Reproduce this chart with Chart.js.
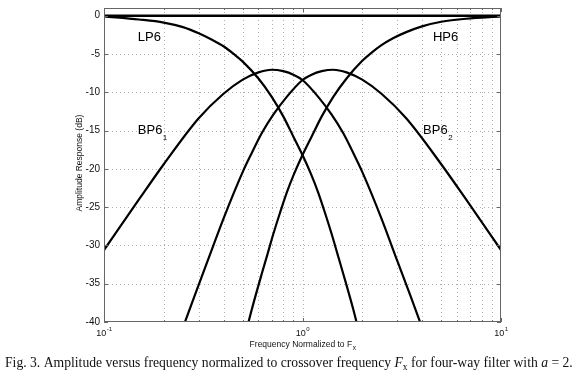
<!DOCTYPE html>
<html><head><meta charset="utf-8">
<script src="https://cdn.jsdelivr.net/npm/chart.js@4.4.0/dist/chart.umd.min.js"></script>
<style>html,body{margin:0;padding:0;background:#fff;}canvas{display:block;}</style>
</head><body>
<canvas id="c" width="578" height="385"></canvas>
<script>
// ---- data ----
const freqSum = [0.1, 10];
const sumResp = [0, 0];

const freqLP = [0.1,0.15,0.2,0.25,0.3,0.35,0.4,0.45,0.5,0.6,0.7,0.8,0.9,1.0,1.1,1.2,1.3,1.4,1.5,1.6,1.8,2.0];
const lp6    = [-0.1,-0.5,-0.9,-1.5,-2.3,-3.15,-4.0,-5.0,-6.0,-8.2,-10.6,-13.15,-15.8,-18.2,-20.6,-23.1,-25.8,-28.45,-31.1,-33.6,-38.3,-43.0];

const freqHP = [0.5,0.556,0.625,0.667,0.714,0.769,0.833,0.909,1.0,1.111,1.25,1.429,1.667,2.0,2.222,2.5,2.857,3.33,4.0,5.0,6.67,10];
const hp6    = [-43.0,-38.3,-33.6,-31.1,-28.45,-25.8,-23.1,-20.6,-18.2,-15.8,-13.15,-10.6,-8.2,-5.9,-4.85,-3.85,-2.95,-2.15,-1.4,-0.8,-0.4,-0.1];

const freqBP1 = [0.1,0.15,0.2,0.3,0.4,0.5,0.6,0.7,0.8,0.9,1.0,1.2,1.4,1.6,1.8,2.0,2.5,3.0,3.5,4.0];
const bp61    = [-30.6,-24.0,-19.4,-13.4,-10.2,-8.35,-7.4,-7.06,-7.25,-7.7,-8.4,-10.6,-12.9,-15.3,-17.9,-20.4,-26.5,-32.0,-36.6,-40.7];

const freqBP2 = [0.25,0.286,0.333,0.4,0.5,0.556,0.625,0.714,0.833,1.0,1.111,1.25,1.429,1.667,2.0,2.5,3.33,5.0,6.67,10];
const bp62    = [-40.7,-36.6,-32.0,-26.5,-20.4,-17.9,-15.3,-12.9,-10.6,-8.4,-7.7,-7.25,-7.06,-7.4,-8.35,-10.2,-13.4,-19.4,-24.0,-30.6];

const yTickValues = [0,-5,-10,-15,-20,-25,-30,-35,-40];
const yTickLabels = ['0','-5','-10','-15','-20','-25','-30','-35','-40'];
const xMajorTicks = [0.1, 1, 10];
const xTickExponents = ['-1','0','1'];
const xMinorTicks = [0.2,0.3,0.4,0.5,0.6,0.7,0.8,0.9,2,3,4,5,6,7,8,9];

const curveLabels = [
  {text:'LP6', sub:'', f:0.148, db:-2.9},
  {text:'HP6', sub:'', f:4.54, db:-2.9},
  {text:'BP6', sub:'1', f:0.148, db:-15.0},
  {text:'BP6', sub:'2', f:4.05, db:-15.0}
];
const xTitle = 'Frequency Normalized to F';
const xTitleSub = 'x';
const yTitle = 'Amplitude Response (dB)';
const captionParts = [
  {t:'Fig. 3. Amplitude versus frequency normalized to crossover frequency ', s:'normal'},
  {t:'F', s:'italic'},
  {t:'x', s:'sub'},
  {t:' for four-way filter with ', s:'normal'},
  {t:'a', s:'italic'},
  {t:' = 2.', s:'normal'}
];

const pts = (xs, ys) => xs.map((v, i) => ({x: v, y: ys[i]}));
const SANS = '"Liberation Sans", Arial, Helvetica, sans-serif';
const SERIF = '"Liberation Serif", "Times New Roman", serif';

const decor = {
  id: 'decor',
  beforeDatasetsDraw(chart) {
    const {ctx, chartArea: a, scales: {x, y}} = chart;
    ctx.save();
    ctx.strokeStyle = '#b0b0b0';
    ctx.lineWidth = 1;
    ctx.setLineDash([1, 3]);
    for (const f of xMinorTicks.concat([1])) {
      const px = Math.round(x.getPixelForValue(f)) + 0.5;
      ctx.beginPath(); ctx.moveTo(px, a.top); ctx.lineTo(px, a.bottom); ctx.stroke();
    }
    for (const v of yTickValues) {
      if (v === 0 || v === -40) continue;
      const py = Math.round(y.getPixelForValue(v)) + 0.5;
      ctx.beginPath(); ctx.moveTo(a.left, py); ctx.lineTo(a.right, py); ctx.stroke();
    }
    ctx.restore();
  },
  afterDatasetsDraw(chart) {
    const {ctx, chartArea: a, scales: {x, y}} = chart;
    ctx.save();
    // frame
    ctx.strokeStyle = '#666';
    ctx.lineWidth = 1;
    ctx.strokeRect(a.left + 0.5, a.top + 0.5, a.right - a.left - 1, a.bottom - a.top - 1);
    // ticks on all sides
    ctx.beginPath();
    for (const v of yTickValues) {
      const py = Math.round(y.getPixelForValue(v)) + 0.5;
      ctx.moveTo(a.left, py); ctx.lineTo(a.left + 4, py);
      ctx.moveTo(a.right, py); ctx.lineTo(a.right - 4, py);
    }
    for (const f of xMajorTicks) {
      const px = Math.round(x.getPixelForValue(f)) + 0.5;
      ctx.moveTo(px, a.bottom); ctx.lineTo(px, a.bottom - 4);
      ctx.moveTo(px, a.top); ctx.lineTo(px, a.top + 4);
    }
    for (const f of xMinorTicks) {
      const px = Math.round(x.getPixelForValue(f)) + 0.5;
      ctx.moveTo(px, a.bottom); ctx.lineTo(px, a.bottom - 2);
      ctx.moveTo(px, a.top); ctx.lineTo(px, a.top + 2);
    }
    ctx.stroke();

    ctx.fillStyle = '#111';
    // y tick labels
    ctx.font = '10px ' + SANS;
    ctx.textAlign = 'right';
    ctx.textBaseline = 'middle';
    yTickValues.forEach((v, i) => {
      ctx.fillText(yTickLabels[i], a.left - 4, y.getPixelForValue(v));
    });
    // x tick labels 10^n
    ctx.textBaseline = 'alphabetic';
    ctx.textAlign = 'left';
    xMajorTicks.forEach((f, i) => {
      const px = x.getPixelForValue(f);
      ctx.font = '9px ' + SANS;
      const w1 = ctx.measureText('10').width;
      ctx.font = '6px ' + SANS;
      const w2 = ctx.measureText(xTickExponents[i]).width;
      const x0 = px - (w1 + w2) / 2;
      ctx.font = '9px ' + SANS;
      ctx.fillText('10', x0, a.bottom + 14);
      ctx.font = '6px ' + SANS;
      ctx.fillText(xTickExponents[i], x0 + w1 + 0.5, a.bottom + 9);
    });
    // x title
    ctx.font = '8.5px ' + SANS;
    const wt = ctx.measureText(xTitle).width;
    ctx.font = '6.5px ' + SANS;
    const ws = ctx.measureText(xTitleSub).width;
    const cx = (a.left + a.right) / 2;
    const tx0 = cx - (wt + ws) / 2;
    ctx.font = '8.5px ' + SANS;
    ctx.fillText(xTitle, tx0, 347);
    ctx.font = '6.5px ' + SANS;
    ctx.fillText(xTitleSub, tx0 + wt + 0.5, 350);
    // y title
    ctx.save();
    ctx.translate(82, (a.top + a.bottom) / 2 - 2);
    ctx.rotate(-Math.PI / 2);
    ctx.font = '8.5px ' + SANS;
    ctx.textAlign = 'center';
    ctx.fillText(yTitle, 0, 0);
    ctx.restore();
    // curve labels
    ctx.fillStyle = '#000';
    for (const lb of curveLabels) {
      const px = x.getPixelForValue(lb.f);
      const py = y.getPixelForValue(lb.db);
      ctx.font = '13px ' + SANS;
      ctx.textBaseline = 'middle';
      ctx.textAlign = 'left';
      ctx.fillText(lb.text, px, py);
      if (lb.sub) {
        const w = ctx.measureText(lb.text).width;
        ctx.font = '8px ' + SANS;
        ctx.fillText(lb.sub, px + w + 0.5, py + 7);
      }
    }
    // caption
    const base = 12;
    const fontFor = (s, sz) => (s === 'italic' ? 'italic ' : '') + (s === 'sub' ? sz * 0.7 : sz) + 'px ' + SERIF;
    let total = 0;
    for (const p of captionParts) { ctx.font = fontFor(p.s, base); total += ctx.measureText(p.t).width; }
    const target = 568;
    const sz = base * target / total;
    let cxp = 5;
    ctx.textBaseline = 'alphabetic';
    ctx.fillStyle = '#111';
    for (const p of captionParts) {
      ctx.font = fontFor(p.s, sz);
      ctx.fillText(p.t, cxp, p.s === 'sub' ? 370 : 367);
      cxp += ctx.measureText(p.t).width;
    }
    ctx.restore();
  }
};

const lineDs = (xs, ys, w) => ({
  data: pts(xs, ys), borderColor: '#000', borderWidth: w, pointRadius: 0,
  cubicInterpolationMode: 'monotone', fill: false, clip: 0
});

new Chart(document.getElementById('c'), {
  type: 'line',
  data: {
    datasets: [
      lineDs(freqSum, sumResp, 2.5),
      lineDs(freqLP, lp6, 2.2),
      lineDs(freqHP, hp6, 2.2),
      lineDs(freqBP1, bp61, 2.2),
      lineDs(freqBP2, bp62, 2.2)
    ]
  },
  options: {
    responsive: false,
    animation: false,
    devicePixelRatio: 1,
    layout: {padding: {top: 8, right: 77, left: 0, bottom: 0}},
    plugins: {legend: {display: false}, tooltip: {enabled: false}},
    scales: {
      x: {type: 'logarithmic', min: 0.1, max: 10,
          ticks: {display: false}, grid: {display: false}, border: {display: false},
          afterFit: s => { s.height = 63; }},
      y: {type: 'linear', min: -40, max: 1,
          ticks: {display: false}, grid: {display: false}, border: {display: false},
          afterFit: s => { s.width = 104; }}
    }
  },
  plugins: [decor]
});
</script>
</body></html>
